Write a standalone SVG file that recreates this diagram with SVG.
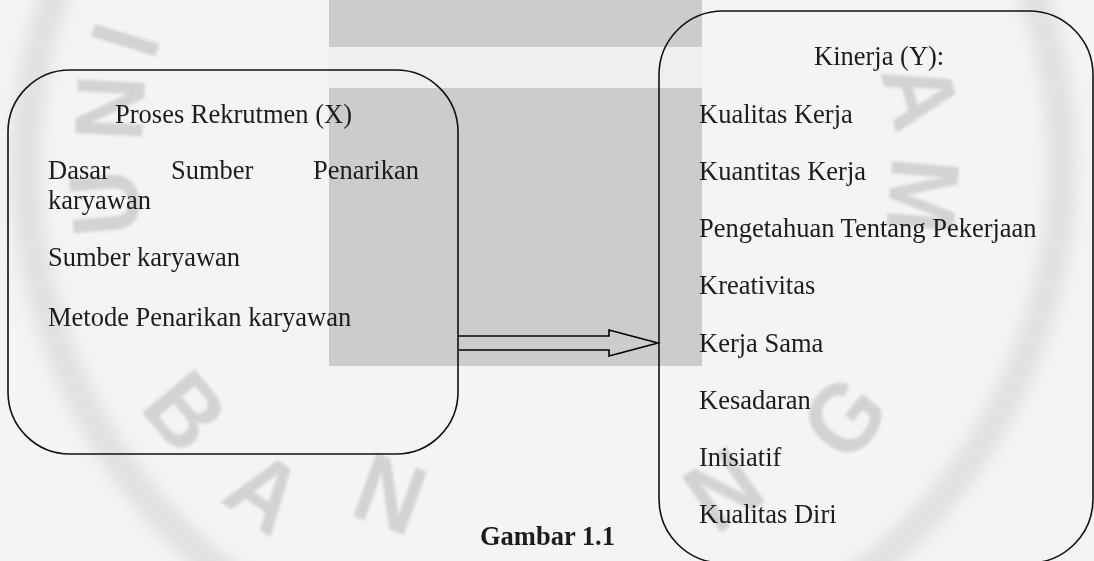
<svg xmlns="http://www.w3.org/2000/svg" width="1094" height="561" viewBox="0 0 1094 561">
  <defs>
    <style>
      .t { font-family: "Liberation Serif", "Times New Roman", serif; font-size: 26.5px; fill: #1c1c1c; }
      .b { font-weight: bold; }
      .box { fill: none; stroke: #111; stroke-width: 1.6; }
      .wm { font-family: "Liberation Sans", Arial, sans-serif; font-weight: bold; font-size: 130px; fill: #d3d3d3; }
      .conn { fill: none; stroke: #000; stroke-width: 1.6; stroke-linejoin: miter; }
    </style>
    <filter id="soft" x="-20%" y="-20%" width="140%" height="140%">
      <feGaussianBlur stdDeviation="1.6"/>
    </filter>
    <filter id="softer" x="-20%" y="-20%" width="140%" height="140%">
      <feGaussianBlur stdDeviation="8"/>
    </filter>
  </defs>

  <!-- background / watermark scene -->
  <g id="background">
    <rect x="0" y="0" width="1094" height="561" fill="#f4f4f4"/>
    <circle cx="544" cy="166" r="518" fill="none" stroke="#e1e1e1" stroke-width="30" filter="url(#softer)"/>
    <rect x="329" y="0" width="373" height="47" fill="#cccccc"/>
    <rect x="329" y="47" width="373" height="41" fill="#efefef"/>
    <rect x="329" y="88" width="373" height="278" fill="#cccccc"/>
    <g filter="url(#soft)">
      <text class="wm" text-anchor="middle" dominant-baseline="central" transform="translate(125,40) rotate(-73) scale(0.7,0.75)">I</text>
      <text class="wm" text-anchor="middle" dominant-baseline="central" transform="translate(110,108) rotate(-87) scale(0.7,0.75)">N</text>
      <text class="wm" text-anchor="middle" dominant-baseline="central" transform="translate(105,203) rotate(-95) scale(0.7,0.75)">U</text>
      <text class="wm" text-anchor="middle" dominant-baseline="central" transform="translate(185,412) rotate(50) scale(0.7,0.75)">B</text>
      <text class="wm" text-anchor="middle" dominant-baseline="central" transform="translate(265,492) rotate(35) scale(0.7,0.75)">A</text>
      <text class="wm" text-anchor="middle" dominant-baseline="central" transform="translate(390,494) rotate(20) scale(0.7,0.75)">N</text>
      <text class="wm" text-anchor="middle" dominant-baseline="central" transform="translate(724,490) rotate(-35) scale(0.7,0.75)">N</text>
      <text class="wm" text-anchor="middle" dominant-baseline="central" transform="translate(845,418) rotate(-50) scale(0.7,0.75)">G</text>
      <text class="wm" text-anchor="middle" dominant-baseline="central" transform="translate(921,95) rotate(75) scale(0.7,0.75)">A</text>
      <text class="wm" text-anchor="middle" dominant-baseline="central" transform="translate(923,196) rotate(95) scale(0.7,0.75)">M</text>
    </g>
  </g>

  <!-- connectors -->
  <g id="connectors">
    <path class="conn" d="M459,336 H609 V330 L658,343 L609,356 V350 H459"/>
  </g>

  <!-- node X -->
  <g id="node-proses-rekrutmen">
    <path class="box" d="M70,70 H396 A62,62 0 0 1 458,132 V392 A62,62 0 0 1 396,454 H70 A62,62 0 0 1 8,392 V132 A62,62 0 0 1 70,70 Z"/>
    <text class="t" x="115" y="123">Proses Rekrutmen (X)</text>
    <text class="t" x="48" y="179">Dasar</text>
    <text class="t" x="171" y="179">Sumber</text>
    <text class="t" x="313" y="179">Penarikan</text>
    <text class="t" x="48" y="209">karyawan</text>
    <text class="t" x="48" y="266">Sumber karyawan</text>
    <text class="t" x="48" y="326">Metode Penarikan karyawan</text>
  </g>

  <!-- node Y -->
  <g id="node-kinerja">
    <path class="box" d="M723,11 H1029 A64,64 0 0 1 1093,75 V499 A64,64 0 0 1 1029,563 H723 A64,64 0 0 1 659,499 V75 A64,64 0 0 1 723,11 Z"/>
    <text class="t" x="814" y="65">Kinerja (Y):</text>
    <text class="t" x="699" y="123">Kualitas Kerja</text>
    <text class="t" x="699" y="180">Kuantitas Kerja</text>
    <text class="t" x="699" y="237">Pengetahuan Tentang Pekerjaan</text>
    <text class="t" x="699" y="294">Kreativitas</text>
    <text class="t" x="699" y="352">Kerja Sama</text>
    <text class="t" x="699" y="409">Kesadaran</text>
    <text class="t" x="699" y="466">Inisiatif</text>
    <text class="t" x="699" y="523">Kualitas Diri</text>
  </g>

  <!-- caption -->
  <g id="caption">
    <text class="t b" x="480" y="545">Gambar 1.1</text>
  </g>
</svg>
